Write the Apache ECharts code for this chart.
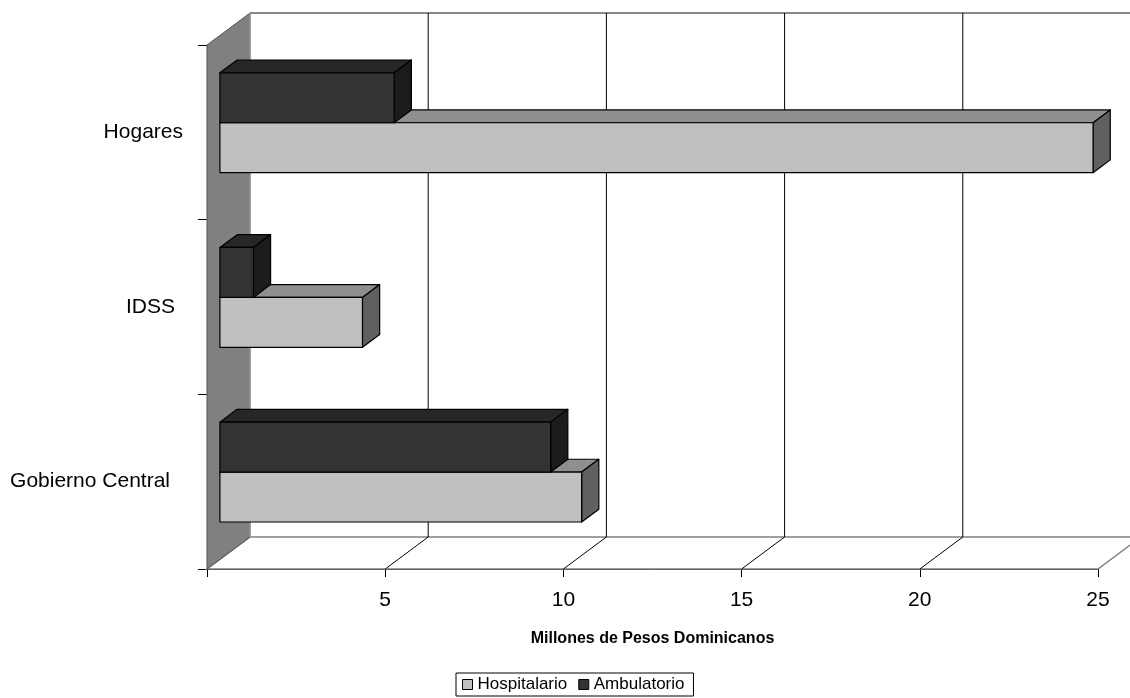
<!DOCTYPE html>
<html>
<head>
<meta charset="utf-8">
<script src="https://cdn.jsdelivr.net/npm/echarts@6/dist/echarts.min.js"></script>
<style>
  html, body { margin: 0; padding: 0; background: #fff; }
  #chart { width: 1130px; height: 698px; }
</style>
</head>
<body>
<div id="chart"></div>
<script>
// Gasto en salud por fuente (millones de pesos dominicanos)
const categories = ['Gobierno Central', 'IDSS', 'Hogares'];
const hospitalario = [10.15, 4.0, 24.5];
const ambulatorio = [9.28, 0.94, 4.89];
const gridTicks = [5, 10, 15, 20];

const FONT = '"Liberation Sans", Arial, sans-serif';
// oblique depth of the plot box and the slab the bars occupy inside it
const DEPTH = [43, -32];
const BAR_FRONT = 0.3, BAR_DEPTH = 0.4, BAR_FRACTION = 0.286;

const chart = echarts.init(document.getElementById('chart'));

function pt(p, k) { return [p[0] + DEPTH[0] * k, p[1] + DEPTH[1] * k]; }

// walls and floor of the 3-D box
function renderWalls(params, api) {
  const cs = params.coordSys;
  const L = cs.x, R = cs.x + cs.width, T = cs.y, B = cs.y + cs.height;
  const dx = DEPTH[0], dy = DEPTH[1];
  return {
    type: 'group',
    children: [
      { type: 'polygon', shape: { points: [[L, B], [L + dx, B + dy], [R + dx, B + dy], [R, B]] },
        style: { fill: '#ffffff', stroke: '#808080', lineWidth: 1.5 } },
      { type: 'polygon', shape: { points: [[L, T], [L + dx, T + dy], [L + dx, B + dy], [L, B]] },
        style: { fill: '#808080', stroke: '#555555', lineWidth: 1 } },
      { type: 'line', shape: { x1: L + dx, y1: T + dy, x2: R + dx + 20, y2: T + dy },
        style: { stroke: '#888888', lineWidth: 2 } },
      { type: 'line', shape: { x1: L + dx, y1: T + dy, x2: L + dx, y2: B + dy },
        style: { stroke: '#999999', lineWidth: 1.5 } }
    ]
  };
}

// back-wall gridlines and floor diagonals
function renderGrid(params, api) {
  const cs = params.coordSys;
  const T = cs.y, B = cs.y + cs.height;
  const x = api.coord([api.value(0), 0])[0];
  return {
    type: 'group',
    children: [
      { type: 'line', shape: { x1: x + DEPTH[0], y1: T + DEPTH[1], x2: x + DEPTH[0], y2: B + DEPTH[1] },
        style: { stroke: '#000', lineWidth: 1 } },
      { type: 'line', shape: { x1: x, y1: B, x2: x + DEPTH[0], y2: B + DEPTH[1] },
        style: { stroke: '#000', lineWidth: 1 } }
    ]
  };
}

function makeBarRenderer(colors, upper) {
  return function (params, api) {
    const val = api.value(0), cat = api.value(1);
    const p0 = api.coord([0, cat]);
    const p1 = api.coord([val, cat]);
    const band = api.size([0, 1])[1];
    const h = band * BAR_FRACTION;
    const f0 = pt(p0, BAR_FRONT), f1 = pt(p1, BAR_FRONT);
    const x0 = f0[0], x1 = f1[0];
    const yt = upper ? f0[1] - h : f0[1];
    const yb = upper ? f0[1] : f0[1] + h;
    const ddx = DEPTH[0] * BAR_DEPTH, ddy = DEPTH[1] * BAR_DEPTH;
    const stroke = { stroke: '#000', lineWidth: 1.2, lineJoin: 'round' };
    return {
      type: 'group',
      children: [
        { type: 'polygon', shape: { points: [[x0, yt], [x1, yt], [x1 + ddx, yt + ddy], [x0 + ddx, yt + ddy]] },
          style: Object.assign({ fill: colors.top }, stroke) },
        { type: 'polygon', shape: { points: [[x1, yt], [x1 + ddx, yt + ddy], [x1 + ddx, yb + ddy], [x1, yb]] },
          style: Object.assign({ fill: colors.side }, stroke) },
        { type: 'rect', shape: { x: x0, y: yt, width: x1 - x0, height: yb - yt },
          style: Object.assign({ fill: colors.front }, stroke) }
      ]
    };
  };
}

const option = {
  animation: false,
  backgroundColor: '#ffffff',
  textStyle: { fontFamily: FONT, color: '#000' },
  grid: { left: 207, right: 32, top: 45, bottom: 129, containLabel: false },
  xAxis: {
    type: 'value', min: 0, max: 25, interval: 5,
    axisLine: { show: true, lineStyle: { color: '#000', width: 1 } },
    axisTick: { show: true, length: 8, lineStyle: { color: '#000' } },
    splitLine: { show: false },
    axisLabel: {
      fontSize: 21, color: '#000', fontFamily: FONT, margin: 21,
      formatter: v => (v === 0 ? '' : String(v))
    },
    name: 'Millones de Pesos Dominicanos',
    nameLocation: 'middle', nameGap: 62,
    nameTextStyle: { fontSize: 16, fontWeight: 'bold', color: '#000', fontFamily: FONT }
  },
  yAxis: {
    type: 'category', data: categories,
    axisLine: { show: true, lineStyle: { color: '#000', width: 1 } },
    axisTick: { show: true, length: 9, alignWithLabel: false, lineStyle: { color: '#000' } },
    splitLine: { show: false },
    axisLabel: {
      margin: 24, fontSize: 21, color: '#000', fontFamily: FONT,
      formatter: v => v === 'Gobierno Central' ? '{g|' + v + '}' : (v === 'IDSS' ? '{i|' + v + '}' : '{n|' + v + '}'),
      rich: {
        g: { fontSize: 21, fontFamily: FONT, color: '#000', padding: [0, 13, 0, 0] },
        i: { fontSize: 21, fontFamily: FONT, color: '#000', padding: [0, 8, 0, 0] },
        n: { fontSize: 21, fontFamily: FONT, color: '#000' }
      }
    }
  },
  legend: {
    data: ['Hospitalario', 'Ambulatorio'],
    left: 456, top: 673,
    orient: 'horizontal',
    icon: 'rect', itemWidth: 10, itemHeight: 10, itemGap: 11,
    padding: [3, 9, 3, 6],
    backgroundColor: '#ffffff',
    borderColor: '#000', borderWidth: 1, borderRadius: 0,
    itemStyle: { borderColor: '#000', borderWidth: 1 },
    textStyle: { fontSize: 17, color: '#000', fontFamily: FONT }
  },
  series: [
    {
      name: 'walls', type: 'custom', renderItem: renderWalls,
      data: [[0, 0]], encode: { x: 0, y: 1 }, silent: true, z: 1
    },
    {
      name: 'grid', type: 'custom', renderItem: renderGrid,
      data: gridTicks.map(t => [t, 0]), encode: { x: 0, y: 1 }, silent: true, z: 2
    },
    {
      name: 'Hospitalario', type: 'custom', z: 3,
      itemStyle: { color: '#C0C0C0' },
      renderItem: makeBarRenderer({ front: '#C0C0C0', top: '#8F8F8F', side: '#606060' }, false),
      data: hospitalario.map((v, i) => [v, i]), encode: { x: 0, y: 1 }
    },
    {
      name: 'Ambulatorio', type: 'custom', z: 4,
      itemStyle: { color: '#333333' },
      renderItem: makeBarRenderer({ front: '#333333', top: '#272727', side: '#1C1C1C' }, true),
      data: ambulatorio.map((v, i) => [v, i]), encode: { x: 0, y: 1 }
    }
  ]
};

chart.setOption(option);
</script>
</body>
</html>
